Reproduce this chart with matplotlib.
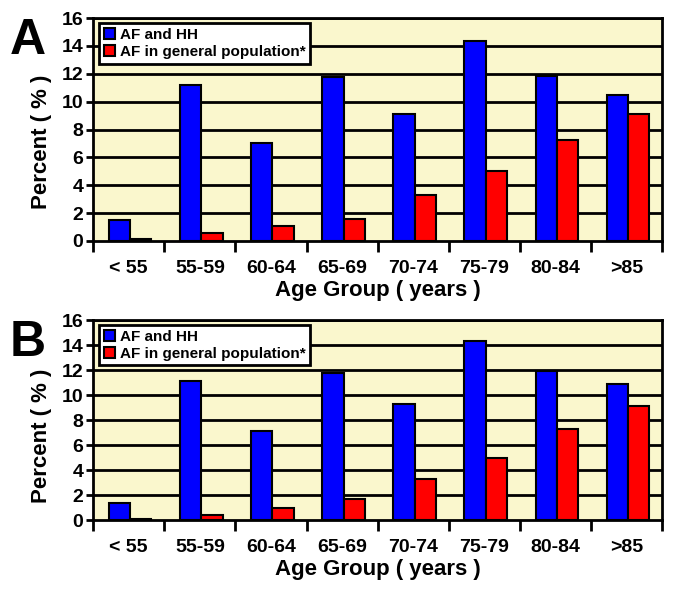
import matplotlib.pyplot as plt
import numpy as np

plt.rcParams['font.family'] = ['Liberation Sans', 'DejaVu Sans']
plt.rcParams['font.weight'] = 'bold'

groups = ['< 55', '55-59', '60-64', '65-69', '70-74', '75-79', '80-84', '>85']
hh_a = [1.5, 11.2, 7.0, 11.75, 9.15, 14.35, 11.85, 10.5]
gen_a = [0.15, 0.6, 1.05, 1.6, 3.3, 5.0, 7.25, 9.1]
hh_b = [1.4, 11.15, 7.1, 11.75, 9.3, 14.35, 11.95, 10.9]
gen_b = [0.1, 0.4, 1.0, 1.65, 3.3, 5.0, 7.25, 9.1]

fig = plt.figure(figsize=(6.75, 6.04), dpi=100)
ax_a = fig.add_axes([0.138, 0.601, 0.843, 0.369])
ax_b = fig.add_axes([0.138, 0.139, 0.843, 0.331])

x = np.arange(len(groups))
w = 0.3

for ax, hh, gen, tag, ly in [(ax_a, hh_a, gen_a, 'A', 0.445), (ax_b, hh_b, gen_b, 'B', 0.42)]:
    ax.set_facecolor('#faf7cd')
    for y in range(2, 17, 2):
        ax.axhline(y, color='black', lw=2, zorder=1)
    ax.bar(x - w/2 + 0.02, hh, w, color='#0000ff', edgecolor='black', lw=1.5,
           label='AF and HH', zorder=3)
    ax.bar(x + w/2 + 0.02, gen, w, color='#ff0000', edgecolor='black', lw=1.5,
           label='AF in general population*', zorder=3)
    ax.set_xlim(-0.5, len(groups) - 0.5)
    ax.set_ylim(0, 16)
    ax.set_yticks(range(0, 17, 2))
    ax.set_xticks(x)
    ax.set_xticklabels(groups, fontsize=14, fontweight='bold')
    ax.set_xticks(np.arange(-0.5, len(groups)), minor=True)
    ax.tick_params(axis='x', which='major', length=0, pad=14)
    ax.tick_params(axis='x', which='minor', length=8, width=2, direction='out')
    ax.tick_params(axis='y', length=5, width=2, labelsize=14, pad=2)
    for lab in ax.get_yticklabels():
        lab.set_fontweight('bold')
    for s in ax.spines.values():
        s.set_linewidth(2)
    ax.set_ylabel('Percent ( % )', fontsize=16, fontweight='bold')
    ax.yaxis.set_label_coords(-0.072, ly)
    ax.set_xlabel('Age Group ( years )', fontsize=16, fontweight='bold', labelpad=2)
    leg = ax.legend(loc='upper left', bbox_to_anchor=(0.005, 0.99), fontsize=11,
                    frameon=True, fancybox=False, edgecolor='black', framealpha=1,
                    handlelength=0.75, handleheight=0.75, handletextpad=0.3,
                    borderpad=0.3, labelspacing=0.2, borderaxespad=0.2)
    leg.get_frame().set_linewidth(2)
    leg.set_zorder(5)
    ax.text(-0.115, 1.0, tag, transform=ax.transAxes, fontsize=36,
            fontweight='bold', ha='center', va='top')

fig.savefig('out.png', dpi=100)
